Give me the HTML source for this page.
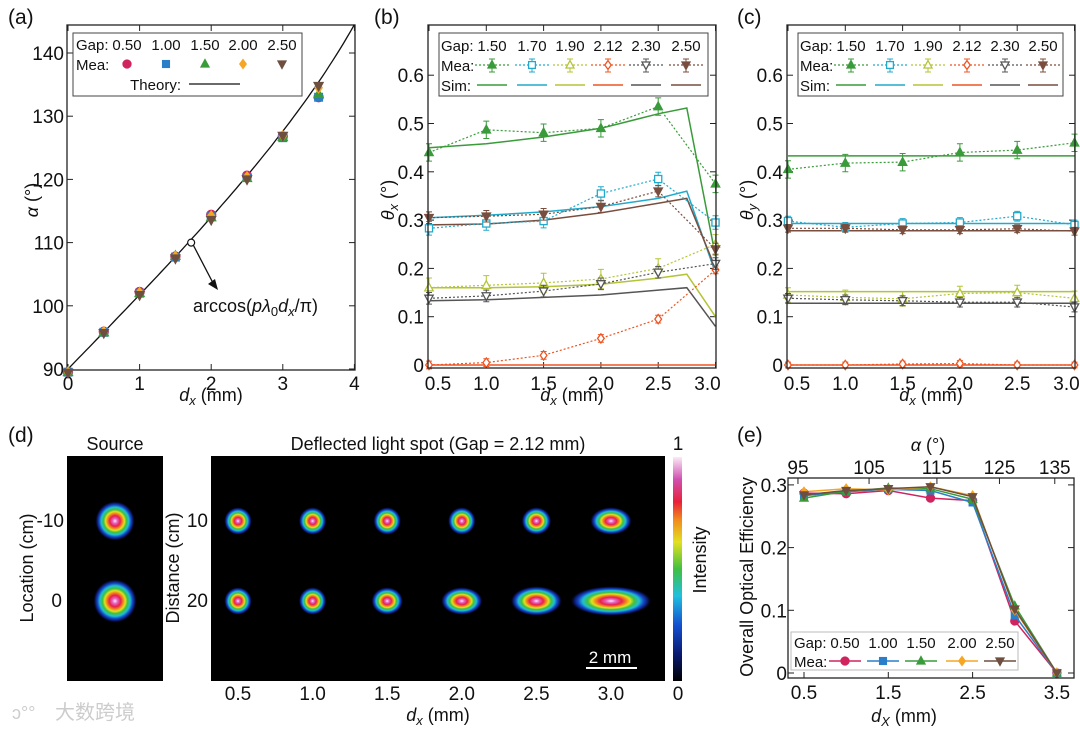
<!DOCTYPE html>
<html><head><meta charset="utf-8"><style>
html,body{margin:0;padding:0;background:#fff}
svg{display:block;font-family:"Liberation Sans","Noto Sans CJK SC",sans-serif}
</style></head><body>
<svg id="fig" width="1080" height="730" viewBox="0 0 1080 730">
<defs>
<radialGradient id="spot">
<stop offset="0" stop-color="#fbeaf6"/><stop offset="0.12" stop-color="#e466c4"/><stop offset="0.26" stop-color="#e8204a"/>
<stop offset="0.38" stop-color="#f28a1c"/><stop offset="0.47" stop-color="#e2e020"/><stop offset="0.57" stop-color="#40c040"/>
<stop offset="0.69" stop-color="#20c0d0"/><stop offset="0.8" stop-color="#1448c8"/><stop offset="0.9" stop-color="#0a1660"/>
<stop offset="1" stop-color="#000" stop-opacity="0"/></radialGradient>
<linearGradient id="cbar" x1="0" y1="1" x2="0" y2="0">
<stop offset="0" stop-color="#000"/><stop offset="0.12" stop-color="#0a1a70"/><stop offset="0.25" stop-color="#1450d0"/>
<stop offset="0.38" stop-color="#20c0e0"/><stop offset="0.5" stop-color="#40c040"/><stop offset="0.62" stop-color="#e2e020"/>
<stop offset="0.72" stop-color="#f28a1c"/><stop offset="0.8" stop-color="#e8203a"/><stop offset="0.9" stop-color="#d050b0"/>
<stop offset="1" stop-color="#fbeaf6"/></linearGradient>
</defs>
</svg>
<script>
// ---------- data ----------
const dxA = [0, 0.5, 1, 1.5, 2, 2.5, 3, 3.5];
const gapA = ["0.50","1.00","1.50","2.00","2.50"];
const alphaG050 = [89.5, 95.9, 102.2, 107.8, 114.4, 120.6, 126.8, 133.0];
const alphaG100 = [89.5, 95.8, 102.0, 107.7, 114.1, 120.3, 126.6, 133.0];
const alphaG150 = [89.5, 95.8, 102.0, 107.9, 114.0, 120.2, 126.7, 133.5];
const alphaG200 = [89.5, 95.9, 102.1, 107.8, 114.2, 120.4, 126.9, 134.5];
const alphaG250 = [89.4, 95.7, 101.7, 107.5, 113.6, 120.0, 126.9, 134.8];
const ticksAx = [0,1,2,3,4];
const ticksAy = [90,100,110,120,130,140];

const dxB = [0.5, 1.0, 1.5, 2.0, 2.5, 3.0];
const gapB = ["1.50","1.70","1.90","2.12","2.30","2.50"];
const meaBx150 = [0.44, 0.487, 0.481, 0.49, 0.535, 0.375];
const meaBx170 = [0.283, 0.293, 0.298, 0.355, 0.385, 0.295];
const meaBx190 = [0.16, 0.165, 0.17, 0.178, 0.2, 0.25];
const meaBx212 = [0.0, 0.005, 0.02, 0.055, 0.095, 0.197];
const meaBx230 = [0.138, 0.143, 0.153, 0.168, 0.192, 0.21];
const meaBx250 = [0.305, 0.308, 0.312, 0.328, 0.36, 0.24];
const errB = [0.018, 0.014, 0.02, 0.008, 0.012, 0.012];
const simDx = [0.5, 1.0, 1.5, 2.0, 2.5, 2.75, 3.0];
const simBx150 = [0.45, 0.458, 0.472, 0.49, 0.52, 0.532, 0.225];
const simBx170 = [0.305, 0.31, 0.317, 0.328, 0.345, 0.36, 0.19];
const simBx190 = [0.16, 0.16, 0.162, 0.167, 0.18, 0.188, 0.1];
const simBx212 = [0.0, 0.0, 0.0, 0.0, 0.0, 0.0, 0.0];
const simBx230 = [0.133, 0.135, 0.14, 0.145, 0.155, 0.16, 0.08];
const simBx250 = [0.29, 0.292, 0.3, 0.315, 0.335, 0.345, 0.2];
const meaCy150 = [0.405, 0.418, 0.42, 0.44, 0.445, 0.46];
const meaCy170 = [0.298, 0.285, 0.293, 0.295, 0.308, 0.29];
const meaCy190 = [0.145, 0.14, 0.137, 0.148, 0.15, 0.138];
const meaCy212 = [0.0, 0.0, 0.002, 0.003, 0.0, 0.0];
const meaCy230 = [0.138, 0.135, 0.133, 0.13, 0.13, 0.12];
const meaCy250 = [0.283, 0.283, 0.28, 0.28, 0.282, 0.277];
const simCy = [0.433, 0.293, 0.152, 0.0, 0.128, 0.278];
const errC = [0.018, 0.01, 0.015, 0.006, 0.01, 0.008];
const ticksBx = ["0.5","1.0","1.5","2.0","2.5","3.0"];
const ticksBy = [0, 0.1, 0.2, 0.3, 0.4, 0.5, 0.6];

const dxE = [0.5, 1.0, 1.5, 2.0, 2.5, 3.0, 3.5];
const effG050 = [0.287, 0.286, 0.291, 0.279, 0.275, 0.083, 0];
const effG100 = [0.283, 0.289, 0.293, 0.291, 0.272, 0.092, 0];
const effG150 = [0.279, 0.29, 0.295, 0.294, 0.277, 0.107, 0];
const effG200 = [0.289, 0.294, 0.292, 0.297, 0.283, 0.1, 0];
const effG250 = [0.284, 0.291, 0.294, 0.297, 0.281, 0.102, 0];
const ticksEx = ["0.5","1.5","2.5","3.5"];
const ticksEy = [0, 0.1, 0.2, 0.3];
const ticksEtop = [95, 105, 115, 125, 135];

const spotDx = ["0.5","1.0","1.5","2.0","2.5","3.0"];
const spotRx10 = [14, 14, 14, 14, 15, 21];
const spotRx20 = [14, 14, 16, 21, 26, 41];
const spotRy10 = [14, 14, 14, 14, 14, 14];
const spotRy20 = [14, 14, 14, 14, 15, 15];

// ---------- helpers ----------
const TF = 19, AF = 18, LF = 15;
const NS = "http://www.w3.org/2000/svg";
const svg = document.getElementById('fig');
function mk(tag, attrs, parent) {
  const e = document.createElementNS(NS, tag);
  for (const k in attrs) e.setAttribute(k, attrs[k]);
  (parent || svg).appendChild(e);
  return e;
}
function txt(s, x, y, size, anchor, parent, extra) {
  const t = mk('text', Object.assign({x: x, y: y, 'font-size': size, 'text-anchor': anchor || 'middle', fill: '#111'}, extra || {}), parent);
  t.textContent = s;
  return t;
}
function marker(shape, x, y, color, filled, s, parent) {
  s = s || 4.5;
  let e;
  const f = filled ? color : '#fff';
  if (shape === 'circle') e = mk('circle', {cx: x, cy: y, r: s, fill: f, stroke: color, 'stroke-width': 1.3}, parent);
  else if (shape === 'square') e = mk('rect', {x: x - s*0.85, y: y - s*0.85, width: s*1.7, height: s*1.7, fill: f, stroke: color, 'stroke-width': 1.3}, parent);
  else if (shape === 'up') e = mk('polygon', {points: `${x},${y-s*1.1} ${x-s},${y+s*0.75} ${x+s},${y+s*0.75}`, fill: f, stroke: color, 'stroke-width': 1.3}, parent);
  else if (shape === 'down') e = mk('polygon', {points: `${x},${y+s*1.1} ${x-s},${y-s*0.75} ${x+s},${y-s*0.75}`, fill: f, stroke: color, 'stroke-width': 1.3}, parent);
  else e = mk('polygon', {points: `${x},${y-s*1.1} ${x+s*0.8},${y} ${x},${y+s*1.1} ${x-s*0.8},${y}`, fill: f, stroke: color, 'stroke-width': 1.3}, parent);
  return e;
}
function frame(x0, y0, x1, y1, parent) {
  const r = mk('rect', {x: x0, y: y0, width: x1 - x0, height: y1 - y0, fill: 'none', stroke: '#222', 'stroke-width': 1.3}, parent);
  
  
}
function pathD(xs, ys, fx, fy) { return xs.map((v, i) => (i ? 'L' : 'M') + fx(v).toFixed(1) + ',' + fy(ys[i]).toFixed(1)).join(' '); }

const colA = ['#d0245f', '#2a7fc8', '#3a9b3a', '#f5a623', '#6e4e3e'];
const shpA = ['circle', 'square', 'up', 'diamond', 'down'];
const colB = ['#3a9b3a', '#22aacc', '#b5c435', '#ee5522', '#555555', '#7a4e3e'];
const shpB = ['up', 'square', 'up', 'diamond', 'down', 'down'];
const fillB = [true, false, false, false, false, true];

// ---------- panel labels ----------
[['(a)', 8, 24], ['(b)', 374, 24], ['(c)', 737, 24], ['(d)', 8, 442], ['(e)', 737, 442]].forEach(p => {
  const t = txt(p[0], p[1], p[2], 21, 'start');
  
  
});

// ---------- panel a ----------
const gA = mk('g', {});


const xa = v => 68 + v * 71.6;
const ya = v => 369 - (v - 90) * 6.32;
frame(67, 25, 355, 370, gA);
ticksAx.forEach(v => {
  mk('line', {x1: xa(v), y1: 370, x2: xa(v), y2: 364, stroke: '#222'}, gA);
  mk('line', {x1: xa(v), y1: 25, x2: xa(v), y2: 31, stroke: '#222'}, gA);
  const t = txt(String(v), xa(v), 390, TF, 'middle', gA);
  
  
});
ticksAy.forEach(v => {
  mk('line', {x1: 67, y1: ya(v), x2: 73, y2: ya(v), stroke: '#222'}, gA);
  mk('line', {x1: 355, y1: ya(v), x2: 349, y2: ya(v), stroke: '#222'}, gA);
  const t = txt(String(v), 64, ya(v) + 7, TF, 'end', gA);
  
  
});
const thX = []; for (let i = 0; i <= 80; i++) thX.push(i * 0.05);
const thY = thX.map(v => Math.acos(-0.2035 * v) * 180 / Math.PI);
const th = mk('path', {d: pathD(thX, thY, xa, ya), fill: 'none', stroke: '#111', 'stroke-width': 1.3}, gA);


[alphaG050, alphaG100, alphaG150, alphaG200, alphaG250].forEach((ser, si) => {
  ser.forEach((v, i) => {
    const m = marker(shpA[si], xa(dxA[i]), ya(v), colA[si], true, 4.5, gA);
    
    
  });
});
mk('circle', {cx: xa(1.72), cy: ya(110), r: 3.5, fill: '#fff', stroke: '#111', 'stroke-width': 1.2}, gA);
mk('line', {x1: xa(1.75), y1: ya(109.6), x2: 213, y2: 283, stroke: '#111', 'stroke-width': 1.3}, gA);
mk('polygon', {points: '218,290 208,284 215,279', fill: '#111'}, gA);
const ann = txt('', 193, 312, AF, 'start', gA);
ann.innerHTML = 'arccos(<tspan font-style="italic">pλ</tspan><tspan font-size="13" dy="4">0</tspan><tspan font-style="italic" dy="-4">d</tspan><tspan font-style="italic" font-size="13" dy="4">x</tspan><tspan dy="-4">/π)</tspan>';


const xta = txt('', 211, 401, AF, 'middle', gA);
xta.innerHTML = '<tspan font-style="italic">d</tspan><tspan font-style="italic" font-size="13" dy="4">x</tspan><tspan dy="-4"> (mm)</tspan>';


const yta = txt('', 0, 0, AF, 'middle', gA, {transform: 'translate(38,200) rotate(-90)'});
yta.innerHTML = '<tspan font-style="italic">α</tspan> (°)';


const lgA = mk('g', {}, gA);


mk('rect', {x: 73, y: 33, width: 229, height: 63, fill: '#fff', stroke: '#444', 'stroke-width': 1}, lgA);
txt('Gap:', 76, 50, LF, 'start', lgA);
txt('Mea:', 76, 70, LF, 'start', lgA);
txt('Theory:', 181, 90, LF, 'end', lgA);
mk('line', {x1: 189, y1: 84, x2: 240, y2: 84, stroke: '#111', 'stroke-width': 1.3}, lgA);
const lgAx = [127, 166, 205, 243, 282];
gapA.forEach((g, i) => {
  txt(g, lgAx[i], 50, LF, 'middle', lgA);
  const m = marker(shpA[i], lgAx[i], 64, colA[i], true, 4, lgA);
  
  
});

// ---------- panels b & c ----------
function thetaPanel(x0, meas, sims, errs, yLabelSub, name, legendXs, isC) {
  const g = mk('g', {});
  
  
  const fx = v => x0 + 1 + (v - 0.5) * 114.6;
  const fy = v => 365 - v * 483;
  const x1 = x0 + 288;
  ticksBx.forEach((s, i) => {
    const v = parseFloat(s);
    mk('line', {x1: fx(v), y1: 368, x2: fx(v), y2: 362, stroke: '#222'}, g);
    mk('line', {x1: fx(v), y1: 25, x2: fx(v), y2: 31, stroke: '#222'}, g);
    const off = i === 0 ? 9 : (i === ticksBx.length - 1 ? -8 : 0);
    const t = txt(s, fx(v) + off, 390, TF, 'middle', g);
    
    
  });
  ticksBy.forEach(v => {
    mk('line', {x1: x0, y1: fy(v), x2: x0 + 6, y2: fy(v), stroke: '#222'}, g);
    mk('line', {x1: x1, y1: fy(v), x2: x1 - 6, y2: fy(v), stroke: '#222'}, g);
    const t = txt(v === 0 ? '0' : v.toFixed(1), x0 - 4, fy(v) + 7, TF, 'end', g);
    
    
  });
  sims.forEach((ser, si) => {
    const ys = isC ? simDx.map(() => ser) : ser;
    const p = mk('path', {d: pathD(simDx, ys, fx, fy), fill: 'none', stroke: colB[si], 'stroke-width': 1.5}, g);
    
    
  });
  meas.forEach((ser, si) => {
    const p = mk('path', {d: pathD(dxB, ser, fx, fy), fill: 'none', stroke: colB[si], 'stroke-width': 1.2, 'stroke-dasharray': '2,2'}, g);
    
    
    ser.forEach((v, i) => {
      const x = fx(dxB[i]), e = errs[si];
      mk('path', {d: `M${x},${fy(v - e)} L${x},${fy(v + e)} M${x - 3},${fy(v - e)} L${x + 3},${fy(v - e)} M${x - 3},${fy(v + e)} L${x + 3},${fy(v + e)}`, stroke: colB[si], 'stroke-width': 1, fill: 'none'}, g);
      const m = marker(shpB[si], x, fy(v), colB[si], fillB[si], 4.2, g);
      
      
    });
  });
  frame(x0, 25, x1, 368, g);
  const lg = mk('g', {}, g);
  
  
  mk('rect', {x: x0 + 11, y: 33, width: isC ? 265 : 269, height: 63, fill: '#fff', stroke: '#444', 'stroke-width': 1}, lg);
  txt('Gap:', x0 + 13, 51, LF, 'start', lg);
  txt('Mea:', x0 + 13, 71, LF, 'start', lg);
  txt('Sim:', x0 + 13, 91, LF, 'start', lg);
  gapB.forEach((s, i) => {
    const cx = legendXs[i];
    txt(s, cx, 51, LF, 'middle', lg);
    mk('line', {x1: cx - 17, y1: 65, x2: cx + 17, y2: 65, stroke: colB[i], 'stroke-width': 1.2, 'stroke-dasharray': '2,2'}, lg);
    mk('path', {d: `M${cx},59 L${cx},72 M${cx - 3},59 L${cx + 3},59 M${cx - 3},72 L${cx + 3},72`, stroke: colB[i], 'stroke-width': 1, fill: 'none'}, lg);
    const m = marker(shpB[i], cx, 65, colB[i], fillB[i], 4, lg);
    
    
    mk('line', {x1: cx - 15, y1: 85, x2: cx + 15, y2: 85, stroke: colB[i], 'stroke-width': 1.5}, lg);
  });
  const xt = txt('', x0 + 144, 401, AF, 'middle', g);
  xt.innerHTML = '<tspan font-style="italic">d</tspan><tspan font-style="italic" font-size="13" dy="4">x</tspan><tspan dy="-4"> (mm)</tspan>';
  
  
  const yt = txt('', 0, 0, AF, 'middle', g, {transform: `translate(${x0 - 34},200) rotate(-90)`});
  yt.innerHTML = '<tspan font-style="italic">θ</tspan><tspan font-style="italic" font-size="13" dy="4">' + yLabelSub + '</tspan><tspan dy="-4"> (°)</tspan>';
  
  
}
thetaPanel(428, [meaBx150, meaBx170, meaBx190, meaBx212, meaBx230, meaBx250],
  [simBx150, simBx170, simBx190, simBx212, simBx230, simBx250], errB, 'x', 'panel-b-theta-x-chart',
  [492, 532, 570, 608, 646, 686], false);
thetaPanel(787, [meaCy150, meaCy170, meaCy190, meaCy212, meaCy230, meaCy250],
  simCy, errC, 'y', 'panel-c-theta-y-chart', [851, 890, 928, 967, 1005, 1043], true);

// ---------- panel d ----------
const gD = mk('g', {});


txt('Source', 115, 450, AF, 'middle', gD);
const srcBox = mk('rect', {x: 67, y: 456, width: 96, height: 225, fill: '#000'}, gD);


mk('ellipse', {cx: 115, cy: 521, rx: 20, ry: 20, fill: 'url(#spot)'}, gD);
mk('ellipse', {cx: 115, cy: 601, rx: 22, ry: 22, fill: 'url(#spot)'}, gD);
txt('-10', 64, 527, TF, 'end', gD);
txt('0', 62, 607, TF, 'end', gD);
txt('Location (cm)', 0, 0, AF, 'middle', gD, {transform: 'translate(33,568) rotate(-90)'});
txt('Deflected light spot (Gap = 2.12 mm)', 438, 450, AF, 'middle', gD);
const defBox = mk('rect', {x: 211, y: 456, width: 454, height: 225, fill: '#000'}, gD);


const spX = v => 238 + (parseFloat(v) - 0.5) * 149.2;
spotDx.forEach((s, i) => {
  const a = mk('ellipse', {cx: spX(s), cy: 521, rx: spotRx10[i], ry: spotRy10[i], fill: 'url(#spot)'}, gD);
  
  
  const b = mk('ellipse', {cx: spX(s), cy: 601, rx: spotRx20[i], ry: spotRy20[i], fill: 'url(#spot)'}, gD);
  
  
  txt(s, spX(s), 700, TF, 'middle', gD);
});
txt('10', 208, 527, TF, 'end', gD);
txt('20', 208, 607, TF, 'end', gD);
txt('Distance (cm)', 0, 0, AF, 'middle', gD, {transform: 'translate(179,568) rotate(-90)'});
const dxt = txt('', 438, 721, AF, 'middle', gD);
dxt.innerHTML = '<tspan font-style="italic">d</tspan><tspan font-style="italic" font-size="13" dy="4">x</tspan><tspan dy="-4"> (mm)</tspan>';
txt('2 mm', 610, 663, 17, 'middle', gD, {fill: '#fff'});
mk('line', {x1: 586, y1: 668, x2: 637, y2: 668, stroke: '#fff', 'stroke-width': 2}, gD);
const cb = mk('rect', {x: 673, y: 457, width: 9, height: 224, fill: 'url(#cbar)'}, gD);


txt('1', 678, 450, TF, 'middle', gD);
txt('0', 678, 700, TF, 'middle', gD);
txt('Intensity', 0, 0, AF, 'middle', gD, {transform: 'translate(706,560) rotate(-90)'});
const wm = txt('大数跨境', 55, 719, 20, 'start', gD, {fill: '#ccc'});


txt('ↄ°°', 12, 719, 18, 'start', gD, {fill: '#ccc'});

// ---------- panel e ----------
const gE = mk('g', {});


const xe = v => 804 + (v - 0.5) * 84.3;
const ye = v => 673 - v * 627;
ticksEx.forEach(s => {
  const v = parseFloat(s);
  mk('line', {x1: xe(v), y1: 678, x2: xe(v), y2: 672, stroke: '#222'}, gE);
  const t = txt(s, xe(v), 699, TF, 'middle', gE);
  
  
});
ticksEtop.forEach(a => {
  const v = -Math.cos(a * Math.PI / 180) / 0.2035;
  mk('line', {x1: xe(v), y1: 478, x2: xe(v), y2: 484, stroke: '#222'}, gE);
  const t = txt(String(a), xe(v), 474, TF, 'middle', gE);
  
  
});
ticksEy.forEach(v => {
  mk('line', {x1: 788, y1: ye(v), x2: 794, y2: ye(v), stroke: '#222'}, gE);
  mk('line', {x1: 1074, y1: ye(v), x2: 1068, y2: ye(v), stroke: '#222'}, gE);
  const t = txt(v === 0 ? '0' : v.toFixed(1), 787, ye(v) + 7, TF, 'end', gE);
  
  
});
[effG050, effG100, effG150, effG200, effG250].forEach((ser, si) => {
  const p = mk('path', {d: pathD(dxE, ser, xe, ye), fill: 'none', stroke: colA[si], 'stroke-width': 1.5}, gE);
  
  
  ser.forEach((v, i) => {
    const m = marker(shpA[si], xe(dxE[i]), ye(v), colA[si], true, 4, gE);
    
    
  });
});
frame(788, 478, 1074, 678, gE);
const lgE = mk('g', {}, gE);


mk('rect', {x: 791, y: 632, width: 227, height: 38, fill: '#fff', stroke: '#bbb', 'stroke-width': 1}, lgE);
txt('Gap:', 794, 648, LF, 'start', lgE);
txt('Mea:', 794, 667, LF, 'start', lgE);
const lgEx = [845, 883, 921, 962, 1000];
gapA.forEach((g, i) => {
  txt(g, lgEx[i], 648, LF, 'middle', lgE);
  mk('line', {x1: lgEx[i] - 16, y1: 661, x2: lgEx[i] + 16, y2: 661, stroke: colA[i], 'stroke-width': 1.5}, lgE);
  const m = marker(shpA[i], lgEx[i], 661, colA[i], true, 4, lgE);
  
  
});
const ext = txt('', 904, 722, AF, 'middle', gE);
ext.innerHTML = '<tspan font-style="italic">d</tspan><tspan font-style="italic" font-size="13" dy="4">X</tspan><tspan dy="-4"> (mm)</tspan>';


const eta = txt('', 928, 451, AF, 'middle', gE);
eta.innerHTML = '<tspan font-style="italic">α</tspan> (°)';


const eyt = txt('Overall Optical Efficiency', 0, 0, AF, 'middle', gE, {transform: 'translate(753,577) rotate(-90)'});


</script>
</body></html>
